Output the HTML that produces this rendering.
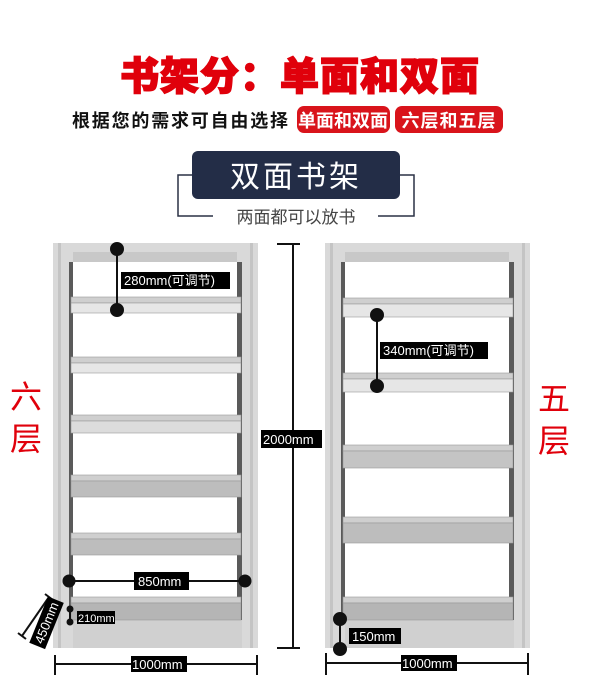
<!DOCTYPE html>
<html><head><meta charset="utf-8"><style>
html,body{margin:0;padding:0;background:#fff;}
body{width:600px;height:695px;overflow:hidden;position:relative;font-family:"Liberation Sans","Noto Sans CJK SC",sans-serif;}
</style></head><body>
<svg width="600" height="695" viewBox="0 0 600 695" xmlns="http://www.w3.org/2000/svg" style="position:absolute;left:0;top:0" font-family="Liberation Sans, Noto Sans CJK SC, sans-serif">
<!-- title -->
<text x="300" y="90" text-anchor="middle" font-size="39" font-weight="900" fill="#e0000b" stroke="#e0000b" stroke-width="1.5" letter-spacing="1">书架分：单面和双面</text>
<text x="72" y="127" font-size="18" font-weight="bold" fill="#111" letter-spacing="1.8">根据您的需求可自由选择</text>
<rect x="297" y="106" width="93" height="27" rx="7" fill="#d9141b"/>
<text x="343" y="127" text-anchor="middle" font-size="18" font-weight="bold" fill="#fff">单面和双面</text>
<rect x="395" y="106" width="108" height="27" rx="7" fill="#d9141b"/>
<text x="449" y="127" text-anchor="middle" font-size="18" font-weight="bold" fill="#fff" letter-spacing="1">六层和五层</text>
<!-- badge -->
<polyline points="192,175 178,175 178,216 213,216" fill="none" stroke="#2a3145" stroke-width="1.5"/>
<polyline points="400,175 414,175 414,216 378,216" fill="none" stroke="#2a3145" stroke-width="1.5"/>
<rect x="192" y="151" width="208" height="48" rx="6" fill="#232d47"/>
<text x="296" y="187" text-anchor="middle" font-size="30" fill="#fff" letter-spacing="3">双面书架</text>
<text x="296" y="223" text-anchor="middle" font-size="17" fill="#444">两面都可以放书</text>

<!-- LEFT SHELF -->
<rect x="53" y="243" width="205" height="405" fill="#d9d9d9"/>
<rect x="69" y="262" width="173" height="358" fill="#fff"/>
<rect x="69" y="262" width="4" height="358" fill="#5a5a5a"/>
<rect x="237" y="262" width="5" height="358" fill="#5a5a5a"/>
<rect x="73" y="252" width="164" height="10" fill="#c8c8c8"/>
<rect x="73" y="620" width="169" height="28" fill="#d0d0d0"/>
<rect x="250" y="243" width="3" height="405" fill="#c4c4c4"/>
<rect x="58" y="243" width="3" height="405" fill="#c4c4c4"/>
<g fill="#cfcfcf" stroke="#999" stroke-width="0.6">
<rect x="71" y="297" width="170" height="6"/><rect x="71" y="303" width="170" height="10" fill="#e6e6e6"/>
<rect x="71" y="357" width="170" height="6"/><rect x="71" y="363" width="170" height="10" fill="#e6e6e6"/>
<rect x="71" y="415" width="170" height="6"/><rect x="71" y="421" width="170" height="12" fill="#dcdcdc"/>
<rect x="71" y="475" width="170" height="6"/><rect x="71" y="481" width="170" height="16" fill="#bdbdbd"/>
<rect x="71" y="533" width="170" height="6"/><rect x="71" y="539" width="170" height="16" fill="#bdbdbd"/>
<rect x="71" y="597" width="170" height="6"/><rect x="71" y="603" width="170" height="17" fill="#b5b5b5"/>
</g>
<!-- RIGHT SHELF -->
<rect x="325" y="243" width="205" height="405" fill="#d9d9d9"/>
<rect x="341" y="262" width="173" height="358" fill="#fff"/>
<rect x="341" y="262" width="4" height="358" fill="#5a5a5a"/>
<rect x="509" y="262" width="5" height="358" fill="#5a5a5a"/>
<rect x="345" y="252" width="164" height="10" fill="#c8c8c8"/>
<rect x="345" y="620" width="169" height="28" fill="#d0d0d0"/>
<rect x="522" y="243" width="3" height="405" fill="#c4c4c4"/>
<rect x="330" y="243" width="3" height="405" fill="#c4c4c4"/>
<g fill="#cfcfcf" stroke="#999" stroke-width="0.6">
<rect x="343" y="298" width="170" height="6"/><rect x="343" y="304" width="170" height="13" fill="#e6e6e6"/>
<rect x="343" y="373" width="170" height="6"/><rect x="343" y="379" width="170" height="13" fill="#e6e6e6"/>
<rect x="343" y="445" width="170" height="6"/><rect x="343" y="451" width="170" height="17" fill="#c4c4c4"/>
<rect x="343" y="517" width="170" height="6"/><rect x="343" y="523" width="170" height="20" fill="#bdbdbd"/>
<rect x="343" y="597" width="170" height="6"/><rect x="343" y="603" width="170" height="17" fill="#b5b5b5"/>
</g>

<!-- dimension annotations -->
<g stroke="#111" stroke-width="2" fill="#111">
<line x1="117" y1="249" x2="117" y2="310"/><circle cx="117" cy="249" r="6"/><circle cx="117" cy="310" r="6"/>
<line x1="69" y1="581" x2="245" y2="581"/><circle cx="69" cy="581" r="5.5"/><circle cx="245" cy="581" r="5.5"/>
<line x1="70" y1="609" x2="70" y2="622"/><circle cx="70" cy="609" r="2.5"/><circle cx="70" cy="622" r="2.5"/>
<line x1="54" y1="664" x2="258" y2="664"/><line x1="55" y1="655" x2="55" y2="675"/><line x1="257" y1="655" x2="257" y2="675"/>
<line x1="293" y1="244" x2="293" y2="648"/><line x1="277" y1="244" x2="300" y2="244"/><line x1="277" y1="648" x2="300" y2="648"/>
<line x1="377" y1="315" x2="377" y2="386"/><circle cx="377" cy="315" r="6"/><circle cx="377" cy="386" r="6"/>
<line x1="340" y1="619" x2="340" y2="649"/><circle cx="340" cy="619" r="6"/><circle cx="340" cy="649" r="6"/>
<line x1="326" y1="663" x2="528" y2="663"/><line x1="326" y1="653" x2="326" y2="675"/><line x1="528" y1="653" x2="528" y2="675"/>
<line x1="22" y1="636" x2="49" y2="597"/><line x1="18" y1="633" x2="26" y2="639"/><line x1="45" y1="594" x2="53" y2="600"/>
</g>
<g font-size="13" fill="#fff">
<rect x="121" y="272" width="109" height="17" fill="#000"/><text x="124" y="285">280mm(可调节)</text>
<rect x="134" y="572" width="55" height="18" fill="#000"/><text x="138" y="586">850mm</text>
<rect x="77" y="611" width="38" height="13" fill="#000"/><text x="78" y="622" font-size="11">210mm</text>
<rect x="131" y="656" width="56" height="16" fill="#000"/><text x="132" y="669">1000mm</text>
<rect x="261" y="430" width="61" height="18" fill="#000"/><text x="263" y="444">2000mm</text>
<rect x="380" y="342" width="108" height="17" fill="#000"/><text x="383" y="355">340mm(可调节)</text>
<rect x="349" y="628" width="52" height="16" fill="#000"/><text x="352" y="641">150mm</text>
<rect x="401" y="655" width="56" height="16" fill="#000"/><text x="402" y="668">1000mm</text>
<g transform="translate(47,623) rotate(-68)"><rect x="-25" y="-9" width="50" height="17" fill="#000"/><text x="0" y="4" text-anchor="middle">450mm</text></g>
</g>
<g font-size="32" fill="#e0000b">
<text x="10" y="408">六</text><text x="10" y="450">层</text>
<text x="538" y="410">五</text><text x="538" y="452">层</text>
</g>
</svg>
</body></html>
